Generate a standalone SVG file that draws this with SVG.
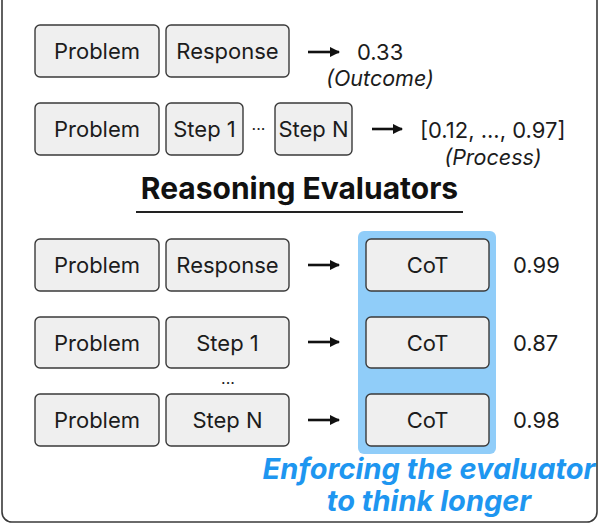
<svg xmlns="http://www.w3.org/2000/svg" width="600" height="525" viewBox="0 0 600 525">
  <defs>
    <marker id="ah" viewBox="0 0 10 10" refX="9" refY="5" markerWidth="4" markerHeight="4" markerUnits="strokeWidth" orient="auto">
      <path d="M0,0 L10,5 L0,10 z" fill="#111"/>
    </marker>
  </defs>
  <style>
    text { font-family: Inter, "Liberation Sans", sans-serif; fill: #1c1c1c; }
    .box { fill: #efefef; stroke: #3a3a3a; stroke-width: 1.4; }
    .lbl { font-size: 22px; text-anchor: middle; }
    .val { font-size: 22px; }
    .it { font-size: 21.5px; font-style: italic; text-anchor: middle; }
    .arrow { stroke: #111; stroke-width: 2.6; fill: none; marker-end: url(#ah); }
    .title { font-size: 30px; font-weight: 700; text-anchor: middle; fill: #111; }
    .blue { font-size: 29px; font-weight: 700; font-style: italic; text-anchor: middle; fill: #1e96f0; }
    .dots { font-size: 16px; text-anchor: middle; }
  </style>
  <rect x="2" y="-12" width="595" height="534" rx="10" fill="#ffffff" stroke="#3a3a3a" stroke-width="1.6"/>

  <g id="panel">
    <rect x="358" y="231" width="138" height="223" rx="6" fill="#90cdf9"/>
  </g>

  <!-- Row 1 -->
  <g id="r1-problem"><rect class="box" x="35" y="25" width="124" height="52" rx="5"/><text class="lbl" x="97" y="59">Problem</text></g>
  <g id="r1-response"><rect class="box" x="166" y="25" width="123" height="52" rx="5"/><text class="lbl" x="227.5" y="59">Response</text></g>
  <g id="r1-score"><text class="val" x="357" y="60">0.33</text><text class="it" x="380" y="86">(Outcome)</text></g>

  <!-- Row 2 -->
  <g id="r2-problem"><rect class="box" x="35" y="103" width="124" height="52" rx="5"/><text class="lbl" x="97" y="137">Problem</text></g>
  <g id="r2-step1"><rect class="box" x="166" y="103" width="77" height="52" rx="5"/><text class="lbl" x="204.5" y="137">Step 1</text></g>
  <text class="dots" x="258.5" y="135">···</text>
  <g id="r2-stepn"><rect class="box" x="275" y="103" width="77" height="52" rx="5"/><text class="lbl" x="313.5" y="137">Step N</text></g>
  <g id="r2-score"><text class="val" x="420" y="138">[0.12, ..., 0.97]</text><text class="it" x="493" y="165">(Process)</text></g>

  <!-- Title -->
  <g id="title">
    <text class="title" x="299.5" y="199">Reasoning Evaluators</text>
    <line x1="136" y1="212" x2="463" y2="212" stroke="#222" stroke-width="2"/>
  </g>

  <!-- Row 3 -->
  <g id="r3-problem"><rect class="box" x="35" y="239" width="124" height="52" rx="5"/><text class="lbl" x="97" y="273">Problem</text></g>
  <g id="r3-response"><rect class="box" x="166" y="239" width="123" height="52" rx="5"/><text class="lbl" x="227.5" y="273">Response</text></g>
  <g id="r3-cot"><rect class="box" x="366" y="239" width="123" height="52" rx="5"/><text class="lbl" x="427.5" y="273">CoT</text></g>
  <g id="r3-score"><text class="val" x="513" y="273">0.99</text></g>

  <!-- Row 4 -->
  <g id="r4-problem"><rect class="box" x="35" y="317" width="124" height="51" rx="5"/><text class="lbl" x="97" y="350.5">Problem</text></g>
  <g id="r4-step1"><rect class="box" x="166" y="317" width="123" height="51" rx="5"/><text class="lbl" x="227.5" y="350.5">Step 1</text></g>
  <g id="r4-cot"><rect class="box" x="366" y="317" width="123" height="51" rx="5"/><text class="lbl" x="427.5" y="350.5">CoT</text></g>
  <g id="r4-score"><text class="val" x="513" y="351">0.87</text></g>
  <text class="dots" x="228" y="384">...</text>

  <!-- Row 5 -->
  <g id="r5-problem"><rect class="box" x="35" y="394" width="124" height="52" rx="5"/><text class="lbl" x="97" y="428">Problem</text></g>
  <g id="r5-stepn"><rect class="box" x="166" y="394" width="123" height="52" rx="5"/><text class="lbl" x="227.5" y="428">Step N</text></g>
  <g id="r5-cot"><rect class="box" x="366" y="394" width="123" height="52" rx="5"/><text class="lbl" x="427.5" y="428">CoT</text></g>
  <g id="r5-score"><text class="val" x="513" y="428">0.98</text></g>

  <g id="caption">
    <text class="blue" x="429" y="479">Enforcing the evaluator</text>
    <text class="blue" x="429" y="511">to think longer</text>
  </g>

  <g id="connectors">
    <line class="arrow" x1="308" y1="52" x2="339" y2="52"/>
    <line class="arrow" x1="372" y1="129" x2="402" y2="129"/>
    <line class="arrow" x1="308" y1="265" x2="339" y2="265"/>
    <line class="arrow" x1="308" y1="342" x2="339" y2="342"/>
    <line class="arrow" x1="308" y1="420" x2="339" y2="420"/>
  </g>
</svg>
